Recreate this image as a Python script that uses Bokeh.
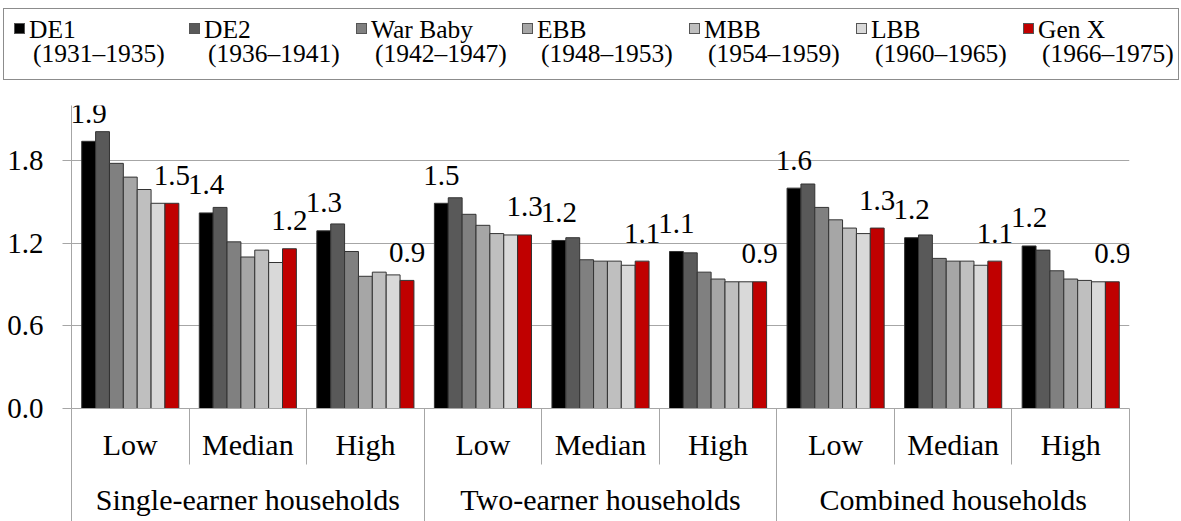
from bokeh.plotting import figure
from bokeh.layouts import column
from bokeh.models import (Range1d, LinearAxis, FixedTicker, ColumnDataSource,
                          PrintfTickFormatter, Div)
from bokeh.transform import dodge
from bokeh.core.properties import value
from bokeh.embed import file_html
from bokeh.resources import INLINE

households = ["Single-earner households", "Two-earner households", "Combined households"]
levels = ["Low", "Median", "High"]
cohorts = ["DE1", "DE2", "War Baby", "EBB", "MBB", "LBB", "Gen X"]
years = ["(1931–1935)", "(1936–1941)", "(1942–1947)", "(1948–1953)",
         "(1954–1959)", "(1960–1965)", "(1966–1975)"]
colors = ["#000000", "#595959", "#808080", "#a6a6a6", "#bfbfbf", "#d9d9d9", "#c00000"]

# values ordered by (household, level)
de1 = [1.94, 1.42, 1.29, 1.49, 1.22, 1.14, 1.60, 1.24, 1.18]
de2 = [2.01, 1.46, 1.34, 1.53, 1.24, 1.13, 1.63, 1.26, 1.15]
war_baby = [1.78, 1.21, 1.14, 1.41, 1.08, 0.99, 1.46, 1.09, 1.00]
ebb = [1.68, 1.10, 0.96, 1.33, 1.07, 0.94, 1.37, 1.07, 0.94]
mbb = [1.59, 1.15, 0.99, 1.27, 1.07, 0.92, 1.31, 1.07, 0.93]
lbb = [1.49, 1.06, 0.97, 1.26, 1.04, 0.92, 1.27, 1.04, 0.92]
gen_x = [1.49, 1.16, 0.93, 1.26, 1.07, 0.92, 1.31, 1.07, 0.92]
series = [de1, de2, war_baby, ebb, mbb, lbb, gen_x]
labelled = {"DE1", "Gen X"}

factors = [(h, l) for h in households for l in levels]
n = len(factors)
centers = [k + 0.5 for k in range(n)]          # category slot centres on the x scale

FONT = "Liberation Serif"
GRAY = "#a6a6a6"
W = 1181

# ---------- legend strip (HTML) ----------
key_left = [14, 189, 356, 522, 689, 856, 1023]
parts = ['<div style="position:relative;width:1181px;height:80px;font-family:\'Liberation Serif\',serif;'
         'color:black;font-size:25.5px;line-height:23px;">',
         '<div style="position:absolute;left:3px;top:8px;width:1176px;height:72px;'
         'border:1px solid #8c8c8c;box-sizing:border-box;"></div>']
for kx, name, yr, col in zip(key_left, cohorts, years, colors):
    parts.append(f'<div style="position:absolute;left:{kx}px;top:23px;width:11px;height:11px;'
                 f'background:{col};border:1px solid #555555;box-sizing:border-box;"></div>')
    parts.append(f'<div style="position:absolute;left:{kx + 15}px;top:18px;height:23px;white-space:nowrap;">{name}</div>')
    parts.append(f'<div style="position:absolute;left:{kx + 19}px;top:42px;height:23px;white-space:nowrap;">{yr}</div>')
parts.append('</div>')
legend_div = Div(text="".join(parts), width=W, height=80, margin=(0, 0, 0, 0))

# ---------- chart ----------
p = figure(width=W, height=441,
           x_range=Range1d(0, n), y_range=Range1d(0, 2.2),
           output_backend="svg", toolbar_location=None, x_axis_location=None,
           min_border_left=71, min_border_right=52, min_border_top=25, min_border_bottom=113)
p.outline_line_color = None
p.background_fill_color = "white"

p.yaxis.ticker = FixedTicker(ticks=[0, 0.6, 1.2, 1.8])
p.yaxis.formatter = PrintfTickFormatter(format="%.1f")
p.yaxis.major_tick_out = 9
p.yaxis.major_tick_in = 0
p.yaxis.minor_tick_line_color = None
p.yaxis.axis_line_color = GRAY
p.yaxis.major_tick_line_color = GRAY
p.yaxis.major_label_standoff = 19
p.yaxis.major_label_text_font = FONT
p.yaxis.major_label_text_font_size = "29px"
p.yaxis.major_label_text_color = "black"
p.ygrid.ticker = FixedTicker(ticks=[0.6, 1.2, 1.8])
p.ygrid.grid_line_color = GRAY
p.xgrid.visible = False

step = 0.118
for i, (name, col, vals) in enumerate(zip(cohorts, colors, series)):
    src = ColumnDataSource(dict(x=centers, top=vals, label=[f"{v:.1f}" for v in vals]))
    off = (i - 3) * step
    p.vbar(x=dodge("x", off, range=p.x_range), top="top", width=step, source=src,
           fill_color=col, line_color="#333333", line_width=1)
    if name in labelled:
        p.text(x=dodge("x", off, range=p.x_range), y="top", text="label", source=src,
               text_align="center", text_baseline="alphabetic", y_offset=-28,
               text_font=value(FONT), text_font_size="29px", text_color="black")

ax1 = LinearAxis(ticker=FixedTicker(ticks=centers, minor_ticks=list(range(n + 1))),
                 major_label_overrides={t: f[1] for t, f in zip(centers, factors)},
                 major_tick_out=0, major_tick_in=0, minor_tick_in=0, minor_tick_out=56,
                 minor_tick_line_color=GRAY, axis_line_color=GRAY,
                 major_label_standoff=-37, major_label_text_font=FONT,
                 major_label_text_font_size="30px", major_label_text_color="black")
grp_ticks = [1.5 + 3 * k for k in range(len(households))]
ax2 = LinearAxis(ticker=FixedTicker(ticks=grp_ticks, minor_ticks=[3 * k for k in range(len(households) + 1)]),
                 major_label_overrides={t: h for t, h in zip(grp_ticks, households)},
                 major_tick_out=0, major_tick_in=0, minor_tick_in=0, minor_tick_out=70,
                 minor_tick_line_color=GRAY, axis_line_color=None,
                 major_label_standoff=-51, major_label_text_font=FONT,
                 major_label_text_font_size="30px", major_label_text_color="black")
p.add_layout(ax1, "below")
p.add_layout(ax2, "below")

layout = column(legend_div, p, spacing=0)
open("out.html", "w").write(file_html(layout, INLINE))
